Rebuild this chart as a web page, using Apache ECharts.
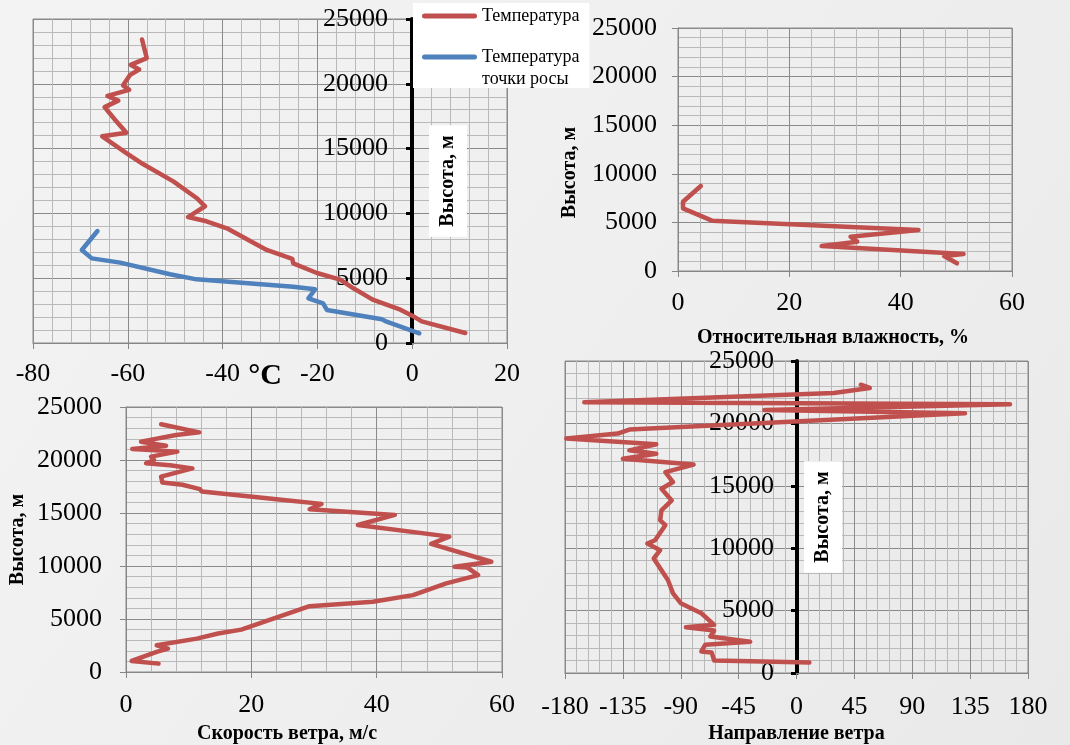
<!DOCTYPE html>
<html>
<head>
<meta charset="utf-8">
<script src="https://cdn.jsdelivr.net/npm/echarts@6/dist/echarts.min.js"></script>
<style>
html,body{margin:0;padding:0;background:#eeeeee;}
#c{width:1070px;height:745px;}
</style>
</head>
<body>
<div id="c"></div>
<script>
// ---- tick labels (axis ranges) ----
const heightTicks = [0, 5000, 10000, 15000, 20000, 25000];
const tempTicks = [-80, -60, -40, -20, 0, 20];
const rhTicks = [0, 20, 40, 60];
const wsTicks = [0, 20, 40, 60];
const wdTicks = [-180, -135, -90, -45, 0, 45, 90, 135, 180];

// ---- series names / axis titles ----
const tempName = 'Температура';
const dewName = 'Температура точки росы';
const heightTitle = 'Высота, м';
const tempTitle = '°C';
const rhTitle = 'Относительная влажность, %';
const wsTitle = 'Скорость ветра, м/с';
const wdTitle = 'Направление ветра';

// ---- temperature profile ----
const tempH = [770, 1670, 2110, 2570, 3320, 3600, 4220, 4890, 5400, 6150, 6500, 7180, 8850, 9390, 9720, 10550, 11190, 12470, 13810, 14660, 15950, 16230, 17230, 18200, 18700, 19070, 19530, 19880, 20690, 21100, 21460, 21980, 23420];
const tempT = [11.2, 2.0, 0.0, -2.5, -8.2, -9.5, -12.4, -15.2, -20.1, -25.1, -25.3, -30.7, -39.1, -43.4, -47.3, -43.7, -45.5, -50.4, -56.8, -60.3, -65.4, -60.3, -62.7, -64.9, -62.0, -64.3, -59.7, -61.0, -59.5, -57.6, -59.4, -56.0, -57.0];

// ---- dew point profile ----
const dewH = [750, 1640, 1830, 2550, 3060, 3450, 4140, 4340, 4910, 5300, 6200, 6530, 7180, 8640];
const dewT = [1.5, -5.4, -6.4, -18.0, -18.8, -21.9, -20.5, -25.1, -45.5, -51.1, -61.6, -67.6, -69.7, -66.4];

// ---- relative humidity ----
const rhH = [790, 1540, 1750, 2570, 3020, 3530, 4220, 5180, 6450, 7130, 8750];
const rhV = [50.1, 47.8, 51.3, 25.8, 32.2, 31.0, 43.2, 6.1, 0.9, 0.9, 4.1];

// ---- wind speed ----
const wsH = [790, 1040, 1890, 2210, 2520, 3150, 3630, 4000, 5040, 6210, 6620, 7250, 8360, 9140, 9850, 9930, 10400, 12080, 12770, 13870, 14820, 15360, 15860, 16300, 16550, 17030, 17250, 17660, 17880, 18430, 19210, 19500, 19690, 20000, 20320, 20790, 21040, 21350, 21730, 22360, 22610, 23370];
const wsV = [5.2, 0.9, 4.9, 6.7, 4.9, 11.3, 14.7, 18.4, 23.5, 29.3, 39.4, 45.8, 51.1, 56.2, 54.5, 52.4, 58.3, 48.7, 51.6, 37.0, 42.9, 29.3, 31.2, 24.0, 19.8, 12.1, 11.8, 9.0, 5.8, 5.6, 10.6, 7.0, 3.2, 4.5, 4.0, 8.2, 1.0, 6.4, 2.4, 8.0, 11.7, 5.6];

// ---- wind direction ----
const wdH = [850, 1000, 1650, 1730, 2260, 2510, 2930, 3400, 3670, 3860, 4790, 5590, 6380, 7450, 9180, 9840, 10370, 10640, 11840, 12240, 13030, 13830, 14760, 15300, 16090, 16700, 17160, 17570, 17840, 18330, 18790, 19190, 19510, 20810, 21080, 21540, 21700, 22430, 22840, 23100];
const wdV = [10, -64, -66, -74, -71, -36, -67, -64, -86, -64, -74, -90, -96, -100, -111, -106, -116, -110, -102, -106, -105, -97, -105, -96, -102, -80, -135, -109, -130, -109, -179, -139, -130, 131, -25, 166, -165, 29, 57, 50];

const RED = '#c0504d';
const BLUE = '#4f81bd';
const FONT = '"Liberation Serif", "Times New Roman", serif';

function pairs(xs, hs) { return hs.map((h, i) => [xs[i], h]); }

function axis(ticks, extra) {
  const base = {
    type: 'value',
    min: ticks[0],
    max: ticks[ticks.length - 1],
    interval: ticks[1] - ticks[0],
    axisLabel: { color: '#000', fontFamily: FONT, fontSize: 26, margin: 20, formatter: v => String(v) },
    axisLine: { show: true, onZero: false, lineStyle: { color: '#868686', width: 1 } },
    axisTick: { show: true, length: 6, lineStyle: { color: '#868686', width: 1 } },
    splitLine: { show: true, lineStyle: { color: '#8a8a8a', width: 1 } },
    minorTick: { show: false, splitNumber: 5 },
    minorSplitLine: { show: true, lineStyle: { color: '#b9b9b9', width: 1 } },
    nameLocation: 'middle',
    nameMoveOverlap: false,
    nameTextStyle: { color: '#000', fontFamily: FONT, fontSize: 20, fontWeight: 'bold', lineHeight: 22 }
  };
  const o = Object.assign({}, base, extra);
  if (extra.axisLabel) o.axisLabel = Object.assign({}, base.axisLabel, extra.axisLabel);
  if (extra.axisLine) o.axisLine = Object.assign({}, base.axisLine, extra.axisLine);
  if (extra.axisTick) o.axisTick = Object.assign({}, base.axisTick, extra.axisTick);
  if (extra.nameTextStyle) o.nameTextStyle = Object.assign({}, base.nameTextStyle, extra.nameTextStyle);
  return o;
}

const blackAxisLine = { onZero: false, lineStyle: { color: '#000', width: 4 } };
const blackTick = { length: 6, lineStyle: { color: '#000', width: 3 } };

function line(name, color, xi, data) {
  return {
    type: 'line', name: name, xAxisIndex: xi, yAxisIndex: xi,
    data: data, symbol: 'none', showSymbol: false, smooth: false,
    lineStyle: { color: color, width: 4.5, cap: 'round', join: 'round' },
    itemStyle: { color: color },
    animation: false
  };
}

const chart = echarts.init(document.getElementById('c'), null, { renderer: 'canvas' });
const gridCommon = { show: true, borderColor: '#8a8a8a', borderWidth: 1, backgroundColor: 'transparent', containLabel: false, outerBoundsMode: 'none' };

const G = [
  { left: 33, top: 19, width: 474, height: 324 },
  { left: 678, top: 28, width: 334, height: 243 },
  { left: 126, top: 407, width: 376, height: 265 },
  { left: 565, top: 361, width: 463, height: 312 }
];
// pixel distance from the grid's left edge to x = 0 (axis placed on zero)
function zeroOffset(g, ticks) {
  const lo = ticks[0], hi = ticks[ticks.length - 1];
  return -Math.round((0 - lo) / (hi - lo) * g.width);
}

chart.setOption({
  animation: false,
  backgroundColor: new echarts.graphic.LinearGradient(0, 0, 1, 1, [
    { offset: 0, color: '#f3f3f3' }, { offset: 0.5, color: '#efefef' }, { offset: 1, color: '#e9e9e9' }
  ]),
  grid: G.map(g => Object.assign({}, g, gridCommon)),
  xAxis: [
    axis(tempTicks, { gridIndex: 0, name: tempTitle, nameGap: 18,
      axisLabel: { margin: 18 },
      nameTextStyle: { fontSize: 30, lineHeight: 30, padding: [0, 10, 0, 0] } }),
    axis(rhTicks, { gridIndex: 1, name: rhTitle, nameGap: 56,
      axisLabel: { margin: 19 },
      nameTextStyle: { padding: [0, 24, 0, 0] } }),
    axis(wsTicks, { gridIndex: 2, name: wsTitle, nameGap: 51,
      axisLabel: { margin: 20 },
      nameTextStyle: { padding: [0, 54, 0, 0] } }),
    axis(wdTicks, { gridIndex: 3, name: wdTitle, nameGap: 50,
      axisLabel: { margin: 21 },
      nameTextStyle: {} })
  ],
  yAxis: [
    axis(heightTicks, { gridIndex: 0, name: heightTitle, nameGap: -55,
      position: 'left', offset: zeroOffset(G[0], tempTicks),
      axisLabel: { margin: 24 }, axisLine: blackAxisLine, axisTick: blackTick,
      nameTextStyle: { backgroundColor: '#ffffff', padding: [8, 10, 8, 10] } }),
    axis(heightTicks, { gridIndex: 1, name: heightTitle, nameGap: 97,
      axisLabel: { margin: 21 },
      nameTextStyle: { padding: [0, 46, 0, 0] } }),
    axis(heightTicks, { gridIndex: 2, name: heightTitle, nameGap: 97,
      axisLabel: { margin: 24 },
      nameTextStyle: {} }),
    axis(heightTicks, { gridIndex: 3, name: heightTitle, nameGap: -45,
      position: 'left', offset: zeroOffset(G[3], wdTicks),
      axisLabel: { margin: 23 }, axisLine: blackAxisLine, axisTick: blackTick,
      nameTextStyle: { backgroundColor: '#ffffff', padding: [8, 10, 8, 10] } })
  ],
  legend: {
    left: 413, top: 3, orient: 'vertical',
    backgroundColor: '#ffffff', borderWidth: 0,
    padding: [4, 10, 0, 9],
    itemGap: 1, itemWidth: 55, itemHeight: 5,
    icon: 'path://M5,0H105A5,5,0,0,1,105,10H5A5,5,0,0,1,5,0Z',
    data: [tempName, dewName],
    formatter: function (n) {
      if (n === dewName) return '{s| }\n{a|Температура}\n{a|точки росы}';
      return '{a|' + n + '}';
    },
    textStyle: {
      color: '#000', fontFamily: FONT, fontSize: 18,
      rich: {
        a: { color: '#000', fontFamily: FONT, fontSize: 18, lineHeight: 22 },
        s: { fontSize: 18, lineHeight: 22 }
      }
    }
  },
  series: [
    line(tempName, RED, 0, pairs(tempT, tempH)),
    line(dewName, BLUE, 0, pairs(dewT, dewH)),
    line('Относительная влажность', RED, 1, pairs(rhV, rhH)),
    line('Скорость ветра', RED, 2, pairs(wsV, wsH)),
    line('Направление ветра', RED, 3, pairs(wdV, wdH))
  ]
});
</script>
</body>
</html>
